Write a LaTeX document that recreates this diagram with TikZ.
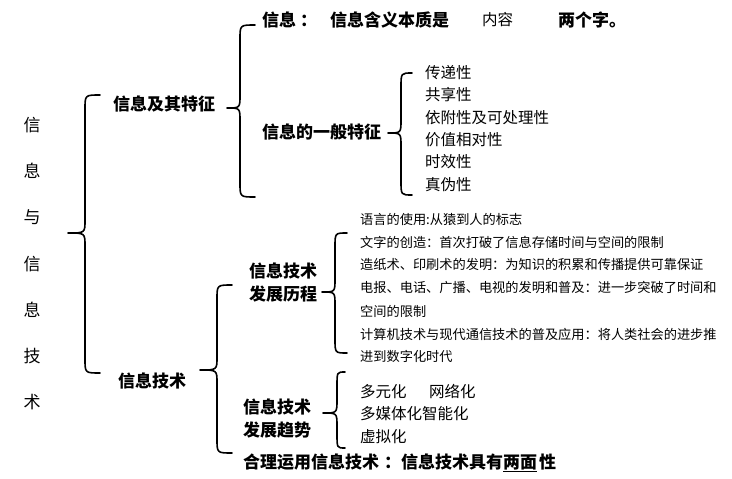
\documentclass[tikz,border=0pt]{standalone}
\usepackage{fontspec}
\setmainfont{Noto Sans CJK SC}
\usepackage{tikz}
\tikzset{
  lvl/.style={font=\fontsize{17}{23}\selectfont\bfseries, inner sep=0pt, anchor=west},
  lvlc/.style={font=\fontsize{17}{23}\selectfont\bfseries, inner sep=0pt, align=center},
  item/.style={font=\fontsize{15.5}{18}\selectfont, inner sep=0pt, anchor=west},
  hist/.style={font=\fontsize{13.2}{16}\selectfont, inner sep=0pt, anchor=west},
  ttl/.style={font=\fontsize{17}{20}\selectfont, inner sep=0pt},
  bracestyle/.style={line width=1.6pt, black, line cap=round, line join=round}
}
\newcommand\wbrace[6]{%
  \draw[bracestyle] (#1,#2) .. controls (#4,#2) .. (#4,#2+14) -- (#4,#6-13)
    .. controls (#4,#6) .. (#5,#6) .. controls (#4,#6) .. (#4,#6+13)
    -- (#4,#3-14) .. controls (#4,#3) .. (#1,#3);}
\begin{document}
\begin{tikzpicture}[x=1pt,y=-1pt]
\useasboundingbox[fill=white] (0,0) rectangle (732,479);
% title column
\foreach \c [count=\i from 0] in {信,息,与,信,息,技,术}{
  \node[ttl] (t\i) at (32,125+46.2*\i) {\c};
}
% braces
\wbrace{100}{95}{373}{85}{68}{233}
\wbrace{255}{25}{197}{240}{227}{108}
\wbrace{412}{73}{195}{401}{388}{133}
\wbrace{232}{285}{453}{217}{200}{370}
\wbrace{347}{233}{353}{335}{322}{292}
\wbrace{345}{372}{448}{337}{323}{413}
% level 1
\node[lvl] (l1a) at (113,104) {信息及其特征};
\node[lvl] (l1b) at (118,381) {信息技术};
% level 2 (信息)
\node[lvl] (xx) at (262,20) {信息\hspace{4pt}：};
\node[lvl] (xxa) at (330,20) {信息含义本质是};
\node[item] (xxb) at (482,20) {内容};
\node[lvl] (xxc) at (558,20) {两个字。};
\node[lvl] (tz) at (262,132) {信息的一般特征};
\foreach \s [count=\i from 0] in {传递性,共享性,依附性及可处理性,价值相对性,时效性,真伪性}{
  \node[item] (tz\i) at (425,72.5+22.4*\i) {\s};
}
% 信息技术
\node[lvlc] (ls) at (283,282.5) {信息技术\\发展历程};
\node[hist] (h0) at (360,219) {语言的使用:从猿到人的标志};
\node[hist] (h1) at (360,242) {文字的创造：首次打破了信息存储时间与空间的限制};
\node[hist] (h2) at (360,265) {造纸术、印刷术的发明：为知识的积累和传播提供可靠保证};
\node[hist] (h3) at (360,288) {电报、电话、广播、电视的发明和普及：进一步突破了时间和};
\node[hist] (h4) at (360,311) {空间的限制};
\node[hist] (h5) at (360,334) {计算机技术与现代通信技术的普及应用：将人类社会的进步推};
\node[hist] (h6) at (360,356) {进到数字化时代};
\node[lvlc] (qs) at (277,418.5) {信息技术\\发展趋势};
\node[item] (q0) at (360,392) {多元化};
\node[item] (q1) at (429,392) {网络化};
\node[item] (q2) at (360,414) {多媒体化智能化};
\node[item] (q3) at (360,437) {虚拟化};
\node[lvl] (hl) at (243,463) {合理运用信息技术\hspace{5pt}：信息技术具有\underline{两面}\hspace{2pt}性};
\end{tikzpicture}
\end{document}
